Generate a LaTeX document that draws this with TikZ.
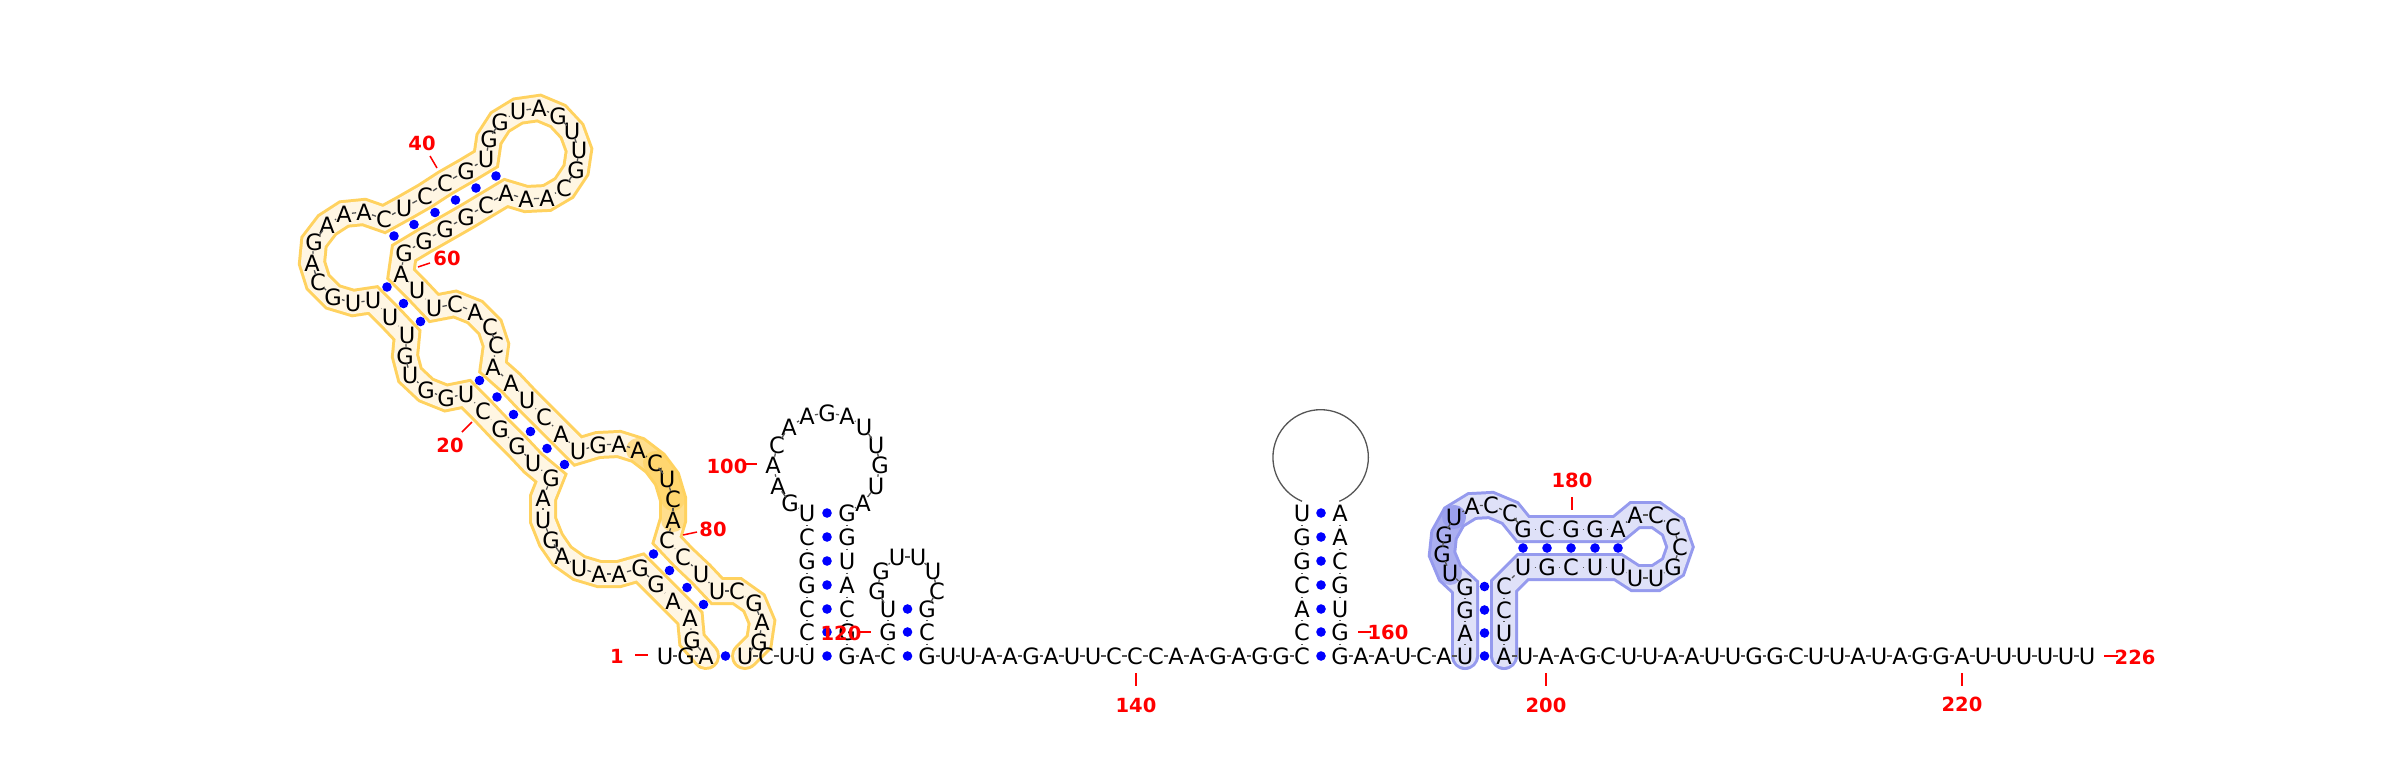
\documentclass[tikz,border=0pt]{standalone}
\usepackage{fontspec}
\usetikzlibrary{calc}
\setmainfont{DejaVu Sans}
\pgfdeclarelayer{bands}
\pgfsetlayers{bands,main}
\definecolor{yedge}{HTML}{FFD25F}
\definecolor{yfill}{HTML}{FFF6E3}
\definecolor{bedge}{HTML}{959AEE}
\definecolor{bfill}{HTML}{DFE1F8}
\definecolor{bbgray}{HTML}{555555}
\tikzset{
 base/.style={rectangle,inner sep=0pt,minimum width=15.5pt,minimum height=23pt,font=\fontsize{22.5}{24}\selectfont,text=black},
 backbone/.style={draw=bbgray,line width=1.3pt},
 stemlink/.style={draw=bbgray,line width=1pt,shorten >=3.5pt,shorten <=3.5pt},
 pairdot/.style={circle,fill=blue,inner sep=0pt,minimum size=9.6pt},
 numlabel/.style={inner sep=0pt,font=\fontsize{19.5}{24}\selectfont\bfseries,text=red},
 numtick/.style={draw=red,line width=1.5pt},
 bandjoin/.style={line join=miter,miter limit=6,line cap=round},
}
\newcommand{\bandpath}[4]{%
 \begin{pgfonlayer}{bands}
  \draw[bandjoin,draw=#3,line width=28pt] (n#1.center) \foreach \i in {#2} {-- (n\i.center)};
  \draw[bandjoin,draw=#4,line width=22pt] (n#1.center) \foreach \i in {#2} {-- (n\i.center)};
 \end{pgfonlayer}}
\newcommand{\overlay}[4]{%
 \begin{pgfonlayer}{bands}
  \draw[bandjoin,draw=#3,opacity=#4,line width=24pt] (n#1.center) \foreach \i in {#2} {-- (n\i.center)};
 \end{pgfonlayer}}
\newcommand{\numtag}[7]{%
 \node[numlabel] (lab#1) at (#2,#3) {#1};
 \coordinate (ta#1) at (#4,#5);
 \coordinate (tb#1) at (#6,#7);
 \draw[numtick] (ta#1) -- (tb#1);}
\begin{document}
\begin{tikzpicture}[x=1pt,y=-1pt]
\begin{pgfonlayer}{bands}
\fill[white] (0,0) rectangle (2400,763);
\end{pgfonlayer}
\useasboundingbox (0,0) rectangle (2400,763);
% bases: index/x/y/letter
\foreach \n/\x/\y/\b in {
1/665/656/U,2/686/656/G,3/706/656/A,4/692/640/G,5/690/618/A,6/673/601/A,7/656/584/G,8/640/568/G,9/619/574/A,10/599/574/A,
11/579/568/U,12/562/556/A,13/551/540/G,14/543/520/U,15/543/498/A,16/551/478/G,17/533/463/U,18/517/446/G,19/500/429/G,20/483/411/C,
21/466/394/U,22/446/398/G,23/426/390/G,24/410/375/U,25/405/356/G,26/407/335/U,27/390/317/U,28/373/300/U,29/353/303/U,30/333/297/G,
31/318/282/C,32/312/263/A,33/314/242/G,34/327/225/A,35/344/214/A,36/364/212/A,37/384/219/C,38/404/208/U,39/425/196/C,40/445/183/C,
41/466/171/G,42/486/159/U,43/489/139/G,44/500/122/G,45/518/111/U,46/539/108/A,47/558/116/G,48/572/131/U,49/579/150/U,50/576/170/G,
51/564/188/C,52/547/198/A,53/526/199/A,54/506/193/A,55/486/205/C,56/466/217/G,57/445/229/G,58/424/241/G,59/404/253/G,60/401/274/A,
61/417/290/U,62/434/308/U,63/455/304/C,64/475/312/A,65/490/327/C,66/496/345/C,67/493/367/A,68/511/383/A,69/527/400/U,70/544/417/C,
71/561/434/A,72/578/451/U,73/598/445/G,74/619/444/A,75/638/450/A,76/655/463/C,77/667/479/U,78/673/499/C,79/673/520/A,80/667/540/C,
81/683/557/C,82/701/574/U,83/717/591/U,84/737/591/C,85/754/603/G,86/762/622/A,87/759/642/G,88/745/656/U,89/766/656/C,90/787/656/U,
91/807/656/U,92/807/632/C,93/807/609/C,94/807/585/G,95/807/561/G,96/807/537/C,97/807/513/U,98/790/503/G,99/778/486/A,100/773/465/A,
101/777/445/C,102/789/427/A,103/807/416/A,104/827/413/G,105/847/416/A,106/864/427/U,107/876/445/U,108/880/465/G,109/876/486/U,110/863/503/A,
111/847/513/G,112/847/537/G,113/847/561/U,114/847/585/A,115/847/609/C,116/847/632/G,117/847/656/G,118/867/656/A,119/888/656/C,120/888/632/G,
121/888/609/U,122/877/591/G,123/881/571/G,124/897/557/U,125/918/557/U,126/933/571/U,127/937/591/C,128/927/609/G,129/927/632/C,130/927/656/G,
131/948/656/U,132/968/656/U,133/989/656/A,134/1010/656/A,135/1031/656/G,136/1051/656/A,137/1072/656/U,138/1093/656/U,139/1114/656/C,140/1135/656/C,
141/1156/656/C,142/1176/656/A,143/1197/656/A,144/1218/656/G,145/1239/656/A,146/1260/656/G,147/1281/656/G,148/1302/656/C,149/1302/632/C,150/1302/609/A,
151/1302/585/C,152/1302/561/G,153/1302/537/G,154/1302/513/U,155/1340/513/A,156/1340/537/A,157/1340/561/C,158/1340/585/G,159/1340/609/U,160/1340/632/G,
161/1340/656/G,162/1361/656/A,163/1382/656/A,164/1403/656/U,165/1424/656/C,166/1444/656/A,167/1465/656/U,168/1465/633/A,169/1465/610/G,170/1465/587/G,
171/1450/573/U,172/1442/554/G,173/1444/535/G,174/1454/517/U,175/1472/506/A,176/1491/505/C,177/1510/513/C,178/1523/529/G,179/1547/529/C,180/1571/529/G,
181/1595/529/G,182/1618/529/A,183/1635/515/A,184/1656/515/C,185/1673/527/C,186/1680/547/C,187/1673/567/G,188/1656/578/U,189/1635/578/U,190/1618/567/U,
191/1595/567/U,192/1571/567/C,193/1547/567/G,194/1523/567/U,195/1504/586/C,196/1504/610/C,197/1504/633/U,198/1504/656/A,199/1525/656/U,200/1546/656/A,
201/1567/656/A,202/1588/656/G,203/1608/656/C,204/1629/656/U,205/1650/656/U,206/1671/656/A,207/1692/656/A,208/1712/656/U,209/1733/656/U,210/1754/656/G,
211/1775/656/G,212/1796/656/C,213/1816/656/U,214/1837/656/U,215/1858/656/A,216/1879/656/U,217/1900/656/A,218/1920/656/G,219/1941/656/G,220/1962/656/A,
221/1983/656/U,222/2004/656/U,223/2024/656/U,224/2045/656/U,225/2066/656/U,226/2087/656/U}
 \node[base] (n\n) at (\x,\y) {\b};
% highlight bands
\bandpath{3}{4,...,88}{yedge}{yfill}
\bandpath{167}{168,...,198}{bedge}{bfill}
\overlay{75}{76,77,78}{yedge}{0.65}
\overlay{76}{77,78,79}{yedge}{0.65}
\overlay{171}{172,173,174}{bedge}{0.7}
\begin{pgfonlayer}{bands}
 \fill[bedge,opacity=0.7] (n174.center) circle[radius=12pt];
\end{pgfonlayer}
% backbone
\foreach \i in {1,...,153,155,156,...,177,182,183,...,189,194,195,...,225}{
 \pgfmathtruncatemacro{\j}{\i+1}
 \draw[backbone] (n\i) -- (n\j);
}
\foreach \i in {178,179,180,181,190,191,192,193}{
 \pgfmathtruncatemacro{\j}{\i+1}
 \draw[stemlink] (n\i) -- (n\j);
}
\draw[backbone] (n154.north) arc[start angle=247,end angle=-67,radius=47.7pt];
% base pairs
\foreach \a/\b in {3/88,5/83,6/82,7/81,8/80,16/72,17/71,18/70,19/69,20/68,21/67,26/62,27/61,28/60,37/59,38/58,39/57,40/56,41/55,42/54,
 91/117,92/116,93/115,94/114,95/113,96/112,97/111,119/130,120/129,121/128,
 148/161,149/160,150/159,151/158,152/157,153/156,154/155,
 167/198,168/197,169/196,170/195,178/194,179/193,180/192,181/191,182/190}
 \node[pairdot] (p\a) at ($(n\a.center)!0.5!(n\b.center)$) {};
% numbering
\numtag{1}{617}{656}{635}{655}{648}{655}
\numtag{20}{450}{445}{462}{432}{472}{422}
\numtag{40}{422}{143}{430}{156}{437}{168}
\numtag{60}{447}{258}{418}{267}{430}{263}
\numtag{80}{713}{529}{683}{535}{697}{532}
\numtag{100}{727}{466}{744}{464}{757}{464}
\numtag{120}{841}{633}{857}{632}{871}{632}
\numtag{140}{1136}{705}{1136}{673}{1136}{686}
\numtag{160}{1388}{632}{1358}{632}{1371}{632}
\numtag{180}{1572}{480}{1572}{497}{1572}{510}
\numtag{200}{1546}{705}{1546}{673}{1546}{686}
\numtag{220}{1962}{704}{1962}{673}{1962}{686}
\numtag{226}{2135}{657}{2104}{656}{2118}{656}
\end{tikzpicture}
\end{document}
